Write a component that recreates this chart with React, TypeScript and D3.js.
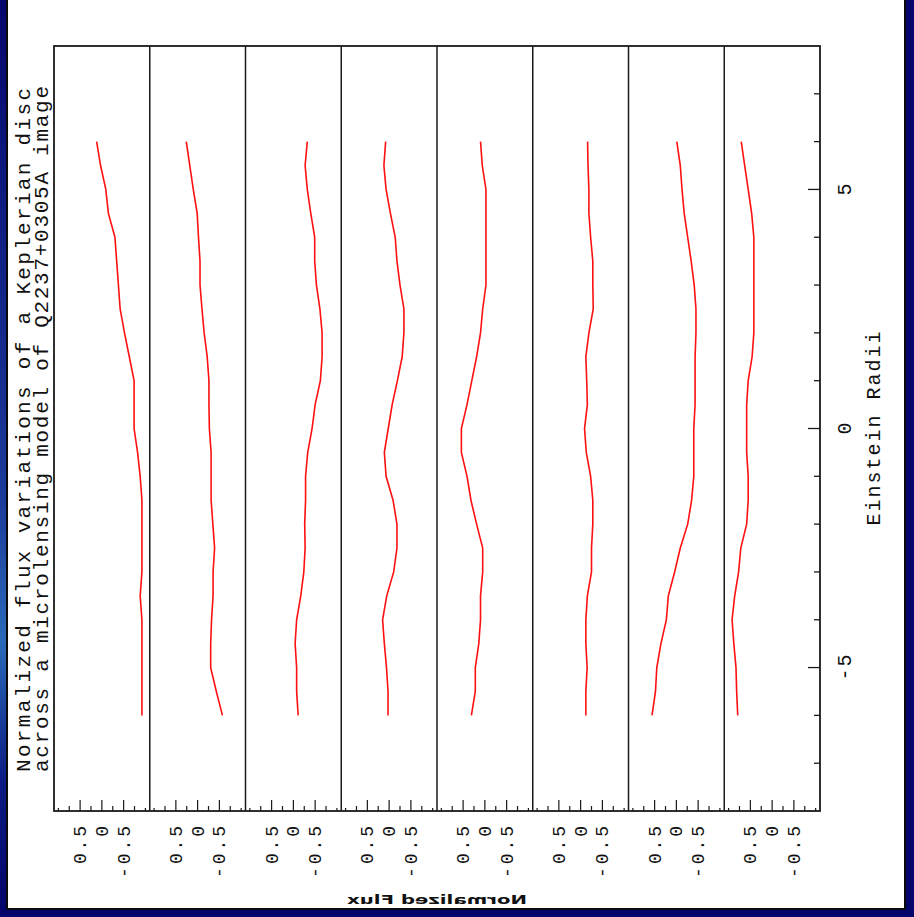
import React from "react";
import * as d3 from "d3";

// Einstein radii sample positions (shared by all panels)
const radii = [-6, -5.5, -5, -4.5, -4, -3.5, -3, -2.5, -2, -1.5, -1, -0.5, 0, 0.5, 1, 1.5, 2, 2.5, 3, 3.5, 4, 4.5, 5, 5.5, 6];

// Normalized flux per panel (left panel first)
const panel1 = [-0.92, -0.92, -0.92, -0.92, -0.92, -0.88, -0.92, -0.92, -0.92, -0.92, -0.88, -0.82, -0.74, -0.74, -0.74, -0.63, -0.52, -0.42, -0.38, -0.34, -0.3, -0.15, -0.09, 0.03, 0.12];
const panel2 = [-0.57, -0.43, -0.3, -0.3, -0.32, -0.355, -0.355, -0.39, -0.35, -0.31, -0.31, -0.31, -0.27, -0.26, -0.26, -0.22, -0.15, -0.1, -0.055, -0.055, -0.02, 0.01, 0.1, 0.18, 0.26];
const panel3 = [-0.11, -0.075, -0.075, -0.04, -0.075, -0.17, -0.24, -0.27, -0.26, -0.28, -0.28, -0.33, -0.43, -0.5, -0.62, -0.66, -0.66, -0.61, -0.53, -0.49, -0.49, -0.4, -0.32, -0.27, -0.32];
const panel4 = [0.025, 0.025, 0.06, 0.11, 0.15, 0.055, -0.105, -0.18, -0.18, -0.09, 0.07, 0.11, 0.02, -0.07, -0.19, -0.3, -0.34, -0.34, -0.25, -0.18, -0.14, -0.03, 0.07, 0.12, 0.08];
const panel5 = [0.31, 0.22, 0.22, 0.14, 0.1, 0.1, 0.05, 0.05, 0.19, 0.32, 0.41, 0.54, 0.54, 0.41, 0.3, 0.19, 0.1, 0.05, -0.025, -0.025, -0.025, -0.025, -0.025, 0.06, 0.1];
const panel6 = [-0.12, -0.12, -0.15, -0.12, -0.12, -0.155, -0.25, -0.25, -0.28, -0.28, -0.23, -0.13, -0.09, -0.155, -0.14, -0.12, -0.19, -0.29, -0.28, -0.28, -0.23, -0.19, -0.19, -0.17, -0.16];
const panel7 = [0.56, 0.48, 0.45, 0.355, 0.23, 0.185, 0.04, -0.09, -0.26, -0.35, -0.4, -0.4, -0.4, -0.43, -0.43, -0.43, -0.45, -0.45, -0.41, -0.34, -0.26, -0.18, -0.13, -0.09, -0.01];
const panel8 = [0.79, 0.815, 0.83, 0.88, 0.92, 0.86, 0.77, 0.72, 0.585, 0.55, 0.55, 0.585, 0.585, 0.585, 0.55, 0.46, 0.42, 0.42, 0.42, 0.42, 0.42, 0.47, 0.55, 0.63, 0.71];

const panels = [panel1, panel2, panel3, panel4, panel5, panel6, panel7, panel8];

// Axis ticks and labels
const radiiTicks = [-7, -6, -5, -4, -3, -2, -1, 0, 1, 2, 3, 4, 5, 6, 7];
const radiiLabels = ["-5", "0", "5"];
const fluxTicks = [-1, -0.75, -0.5, -0.25, 0, 0.25, 0.5, 0.75, 1];
const fluxLabelTexts = ["0.5", "0", "-0.5"];

const titleLine1 = "Normalized flux variations of a Keplerian disc";
const titleLine2 = "across a microlensing model of Q2237+0305A image";
const radiiTitle = "Einstein Radii";
const fluxTitle = "Normalized Flux";

const W = 914;
const H = 917;
const FONT = "'Liberation Mono', 'DejaVu Sans Mono', monospace";

export default function App() {
  const left = 54, right = 820, top = 46, bottom = 811;
  const yR = d3.scaleLinear().domain([-8, 8]).range([bottom, top]);
  const band = d3.scaleBand<number>().domain(d3.range(panels.length)).range([left, right]).paddingInner(0).paddingOuter(0);
  const bw = band.bandwidth();
  const fluxScale = (i: number) => d3.scaleLinear().domain([1.1, -1.1]).range([band(i)!, band(i)! + bw]);

  return (
    <svg width={W} height={H} style={{ position: "absolute", left: 0, top: 0 }} xmlns="http://www.w3.org/2000/svg">
      <defs>
        <linearGradient id="bg" x1="0" y1="0" x2="0" y2="1">
          <stop offset="0" stopColor="#06066e" />
          <stop offset="0.55" stopColor="#1c3c9c" />
          <stop offset="0.7" stopColor="#2a6ab8" />
          <stop offset="0.85" stopColor="#0c1c84" />
          <stop offset="1" stopColor="#04046a" />
        </linearGradient>
      </defs>
      <rect x={0} y={0} width={W} height={H} fill="#05056c" />
      <rect x={0} y={0} width={7} height={H} fill="url(#bg)" />
      <rect x={6} y={-2} width={900} height={912} fill="#0a0a0a" />
      <rect x={8} y={0} width={896} height={908} fill="#ffffff" />

      {/* panel dividers */}
      {d3.range(1, panels.length).map((i) => (
        <line key={"div" + i} x1={band(i)!} x2={band(i)!} y1={top} y2={bottom} stroke="#1a1a1a" strokeWidth={1.5} />
      ))}

      {/* bottom (flux) ticks */}
      {panels.map((_, i) => {
        const fx = fluxScale(i);
        return fluxTicks.map((v) => {
          const len = Math.abs(v) === 1 ? 3 : v === 0 || Math.abs(v) === 0.5 ? 11 : 5;
          return <line key={`ft${i}_${v}`} x1={fx(v)} x2={fx(v)} y1={bottom} y2={bottom - len} stroke="#1a1a1a" strokeWidth={1.2} />;
        });
      })}

      {/* right (radii) ticks */}
      {radiiTicks.map((t) => (
        <line key={"rt" + t} x1={right} x2={right - (t % 5 === 0 ? 12 : 6)} y1={yR(t)} y2={yR(t)} stroke="#1a1a1a" strokeWidth={1.3} />
      ))}

      {/* frame */}
      <rect x={left} y={top} width={right - left} height={bottom - top} fill="none" stroke="#1a1a1a" strokeWidth={1.8} />

      {/* curves */}
      {panels.map((vals, i) => {
        const fx = fluxScale(i);
        const line = d3.line<number>().x((d) => fx(d)).y((_, j) => yR(radii[j]));
        return <path key={"c" + i} d={line(vals) || ""} fill="none" stroke="#ff1010" strokeWidth={1.6} />;
      })}

      {/* flux tick labels */}
      {panels.map((_, i) => {
        const fx = fluxScale(i);
        return fluxLabelTexts.map((txt, k) => {
          const v = +txt;
          const extra = txt.length > 1 ? { textLength: (txt.length - 1) * 14 + 10, lengthAdjust: "spacing" } : {};
          return (
            <text key={`fl${i}_${k}`} transform={`translate(${fx(v) + 6},826) rotate(-90)`} textAnchor="end" fontFamily={FONT} fontSize={18} fill="#111" {...extra}>
              {txt}
            </text>
          );
        });
      })}

      {/* radii tick labels */}
      {radiiLabels.map((txt) => {
        const extra = txt.length > 1 ? { textLength: 26, lengthAdjust: "spacing" } : {};
        return (
          <text key={"rl" + txt} transform={`translate(851,${yR(+txt)}) rotate(-90)`} textAnchor="middle" fontFamily={FONT} fontSize={20} fill="#111" {...extra}>
            {txt}
          </text>
        );
      })}

      {/* axis titles */}
      <text transform={`translate(880,${yR(0)}) rotate(-90)`} textAnchor="middle" fontFamily={FONT} fontSize={20} fill="#111" textLength={194} lengthAdjust="spacing">
        {radiiTitle}
      </text>
      <text transform={`translate(${(left + right) / 2},904) scale(-1,1)`} textAnchor="middle" fontFamily="'DejaVu Sans', sans-serif" fontWeight="bold" fontSize={13} fill="#111" textLength={180} lengthAdjust="spacingAndGlyphs">
        {fluxTitle}
      </text>

      {/* main title */}
      <text transform="translate(30,772) rotate(-90)" textAnchor="start" fontFamily={FONT} fontSize={21} fill="#111" textLength={684} lengthAdjust="spacing">
        {titleLine1}
      </text>
      <text transform="translate(48,772) rotate(-90)" textAnchor="start" fontFamily={FONT} fontSize={21} fill="#111" textLength={686} lengthAdjust="spacing">
        {titleLine2}
      </text>
    </svg>
  );
}
